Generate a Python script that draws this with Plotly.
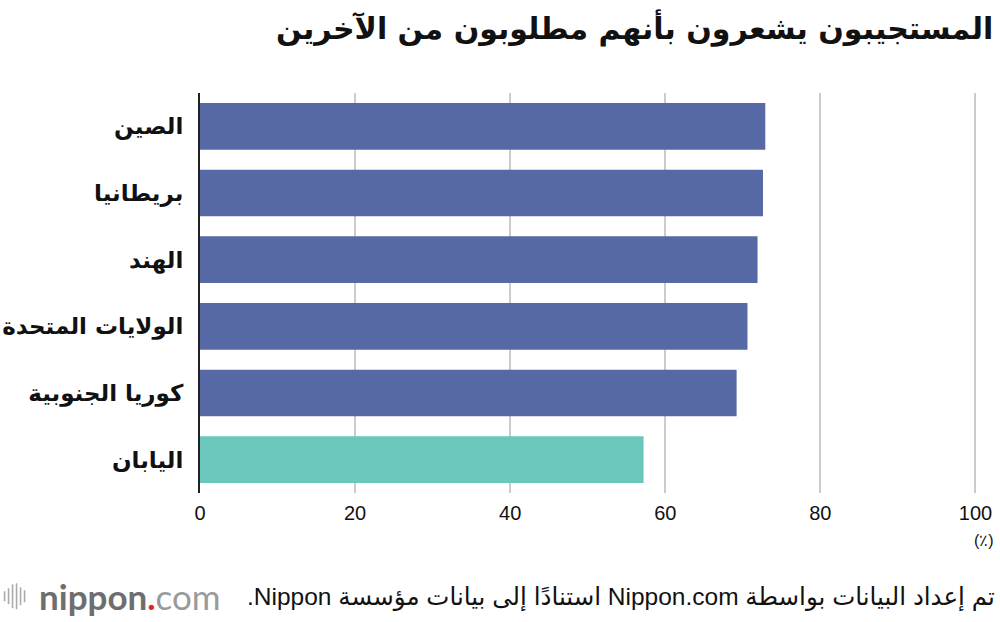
import plotly.graph_objects as go

countries = ["الصين", "بريطانيا", "الهند", "الولايات المتحدة", "كوريا الجنوبية", "اليابان"]
values = [72.9, 72.6, 71.9, 70.6, 69.2, 57.2]
bar_colors = ["#5769a5", "#5769a5", "#5769a5", "#5769a5", "#5769a5", "#6bc7bb"]
x_ticks = [0, 20, 40, 60, 80, 100]

title_text = "المستجيبون يشعرون بأنهم مطلوبون من الآخرين"
source_text = "\u202bتم إعداد البيانات بواسطة Nippon.com استنادًا إلى بيانات مؤسسة Nippon.\u202c"
unit_text = "(٪)"

fig = go.Figure()
fig.add_trace(go.Bar(
    x=values, y=countries, orientation="h",
    marker=dict(color=bar_colors, line=dict(width=0)),
    hoverinfo="x+y",
))

fig.update_layout(
    width=1000, height=622,
    margin=dict(l=199.5, r=23.3, t=92.5, b=128.5, autoexpand=False),
    paper_bgcolor="white", plot_bgcolor="white",
    bargap=0.3,
    showlegend=False,
    font=dict(family="Liberation Sans, Arial, sans-serif", color="#111111"),
)
fig.update_xaxes(
    range=[0, 100.2], tickvals=x_ticks, ticktext=[str(v) for v in x_ticks],
    showgrid=True, gridcolor="#cccccc", gridwidth=2,
    zeroline=False, showline=False, ticks="", automargin=False,
    tickfont=dict(size=20, family="Liberation Sans, Arial, sans-serif", color="#111111"),
    ticklabelstandoff=6, fixedrange=True,
)
fig.update_yaxes(
    autorange="reversed", showgrid=False, zeroline=False,
    showline=True, linecolor="#222222", linewidth=2,
    ticks="", ticklabelstandoff=10, automargin=False,
    tickfont=dict(size=23, family="DejaVu Sans, sans-serif", color="#111111", weight="bold"),
    fixedrange=True,
)

annotations = [
    dict(text="<b>" + title_text + "</b>", xref="paper", yref="paper",
         x=1.0, y=1.0, xanchor="right", yanchor="middle",
         xshift=18, yshift=(92.5 - 27), showarrow=False,
         font=dict(size=30, family="DejaVu Sans, sans-serif", color="#111111")),
    dict(text=unit_text, xref="x", yref="paper", x=100, y=0, xanchor="center",
         yanchor="middle", xshift=9, yshift=-(541 - 493.5), showarrow=False,
         font=dict(size=16, family="Liberation Sans, Arial, sans-serif", color="#111111")),
    dict(text=source_text, xref="paper", yref="paper", x=1.0, y=0,
         xanchor="right", yanchor="middle", xshift=20, yshift=-(598 - 493.5),
         showarrow=False,
         font=dict(size=24.5, family="Liberation Sans, DejaVu Sans, sans-serif", color="#111111")),
    dict(text="<b><span style='color:#6e6e6e'>nippon</span><span style='color:#e5242b'>.</span></b><span style='color:#9a9a9a'>com</span>",
         xref="paper", yref="paper", x=0, y=0, xanchor="left", yanchor="middle",
         xshift=-199.5 + 36, yshift=-(596 - 493.5), showarrow=False,
         font=dict(size=35, family="Lato, Open Sans, sans-serif")),
]
fig.update_layout(annotations=annotations)

# logo stripes (decorative)
stripe_x = [4, 8, 12, 16, 20, 24]
stripe_h = [10, 16, 24, 26, 18, 12]
shapes = []
for sx, sh in zip(stripe_x, stripe_h):
    shapes.append(dict(type="line", xref="paper", yref="paper",
                       x0=(sx - 199.5) / 777.2, x1=(sx - 199.5) / 777.2,
                       y0=(493.5 - (597 - sh / 2)) / 401, y1=(493.5 - (597 + sh / 2)) / 401,
                       line=dict(color="#aaaaaa", width=1.6)))
fig.update_layout(shapes=shapes)

fig.write_html("out.html")
